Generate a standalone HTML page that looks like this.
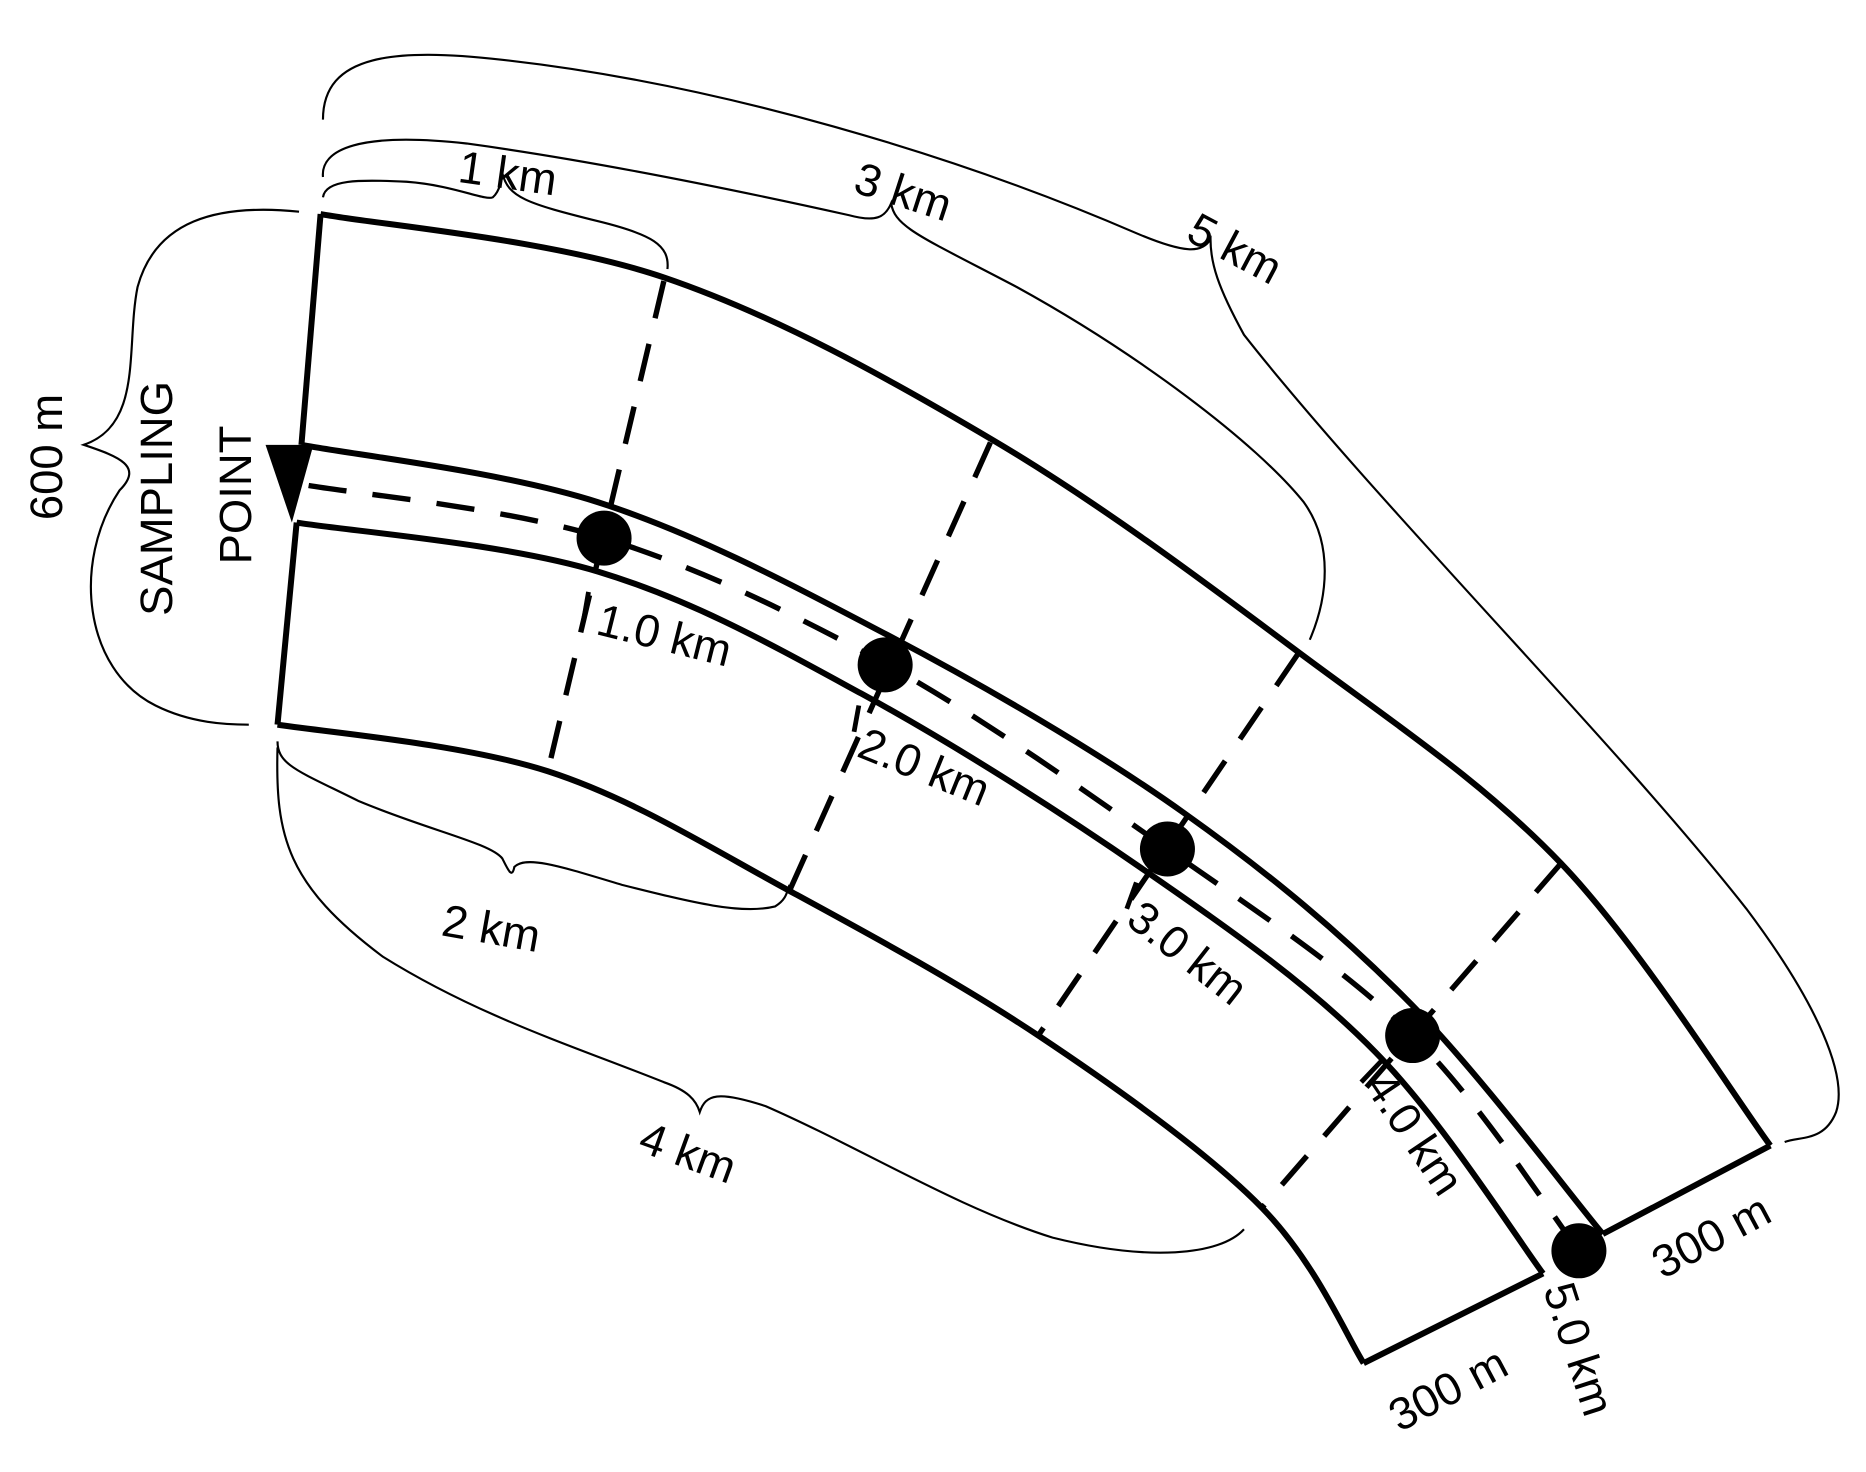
<!DOCTYPE html>
<html><head><meta charset="utf-8"><style>
html,body{margin:0;padding:0;background:#fff;}
svg{display:block;}
text{font-family:"Liberation Sans",sans-serif;font-size:38px;fill:#000;}
</style></head><body>
<svg width="1866" height="1472" viewBox="0 0 1560 1231" preserveAspectRatio="none" xmlns="http://www.w3.org/2000/svg">
<g fill="none" stroke="#000" stroke-width="5" stroke-linecap="butt" stroke-linejoin="miter">
<path d="M268,179 C316,188 461,200 555,232 C649,264 742,316 830,368 C918,420 1006,486 1085,545 C1164,604 1239,653 1305,722 C1371,791 1451,919 1480,958"/>
<path d="M252,372 C293,380 419,394 500,420 C581,446 658,487 740,530 C822,573 917,628 990,680 C1063,732 1122,781 1180,840 C1238,899 1313,1000 1340,1032"/>
<path d="M248,437 C290,444 421,454 500,478 C579,502 643,538 720,580 C797,622 888,680 960,730 C1032,780 1095,824 1150,880 C1205,936 1267,1034 1290,1065"/>
<path d="M232,606 C270,612 387,622 458,645 C529,668 592,708 660,745 C728,782 802,822 868,866 C934,910 1010,964 1055,1010 C1100,1056 1126,1118 1140,1140"/>
<path d="M268,179 L252,372"/>
<path d="M248,437 L232,606"/>
<path d="M1480,958 L1340,1032"/>
<path d="M1140,1140 L1290,1065"/>
</g>
<g fill="none" stroke="#000" stroke-width="4.5" stroke-dasharray="32,22">
<path d="M258,406 C299,413 425,425 505,450 C585,475 661,512 740,555 C818,598 902,658 976,710 C1050,762 1124,810 1181,866 C1238,922 1297,1016 1320,1046"/>
<path d="M555,235 L458,645"/>
<path d="M828,370 L660,745"/>
<path d="M1085,547 L868,866"/>
<path d="M1305,722 L1055,1010"/>
</g>
<polygon points="222,372 262,372 244,437" fill="#000"/>
<g fill="#000">
<circle cx="505" cy="450" r="23"/>
<circle cx="740" cy="556" r="23"/>
<circle cx="976" cy="710" r="23"/>
<circle cx="1181" cy="866" r="23"/>
<circle cx="1320" cy="1046" r="23"/>
</g>
<g stroke="#000" stroke-width="4">
<path d="M492,495 L488,518"/>
<path d="M718,590 L714,612"/>
<path d="M950,738 L942,760"/>
<path d="M1157,885 L1138,905"/>
</g>
<g fill="none" stroke="#000" stroke-width="1.8">
<path d="M250,177 C180,170 130,185 115,240 C105,290 120,355 70,372 C100,382 120,390 100,410 C60,470 70,560 130,590 C160,605 190,606 208,606"/>
<path d="M270,165 C272,150 300,150 340,152 C380,155 405,168 412,165 C418,160 420,148 420,145 C425,165 440,170 500,185 C545,196 560,205 558,225"/>
<path d="M270,148 C268,125 300,110 390,120 C500,135 620,160 710,180 C732,186 740,182 745,170 C748,190 770,198 850,240 C950,295 1050,370 1090,420 C1115,455 1110,500 1095,535"/>
<path d="M270,100 C270,45 330,40 420,50 C600,70 800,130 950,195 C990,212 1005,212 1012,200 C1012,220 1018,240 1040,280 C1150,420 1350,620 1460,760 C1520,840 1545,900 1535,930 C1525,955 1505,950 1492,955"/>
<path d="M232,620 C232,640 250,645 300,670 C360,695 410,705 420,718 C425,728 428,735 430,725 C440,715 470,725 520,740 C580,755 620,765 648,758 C658,752 658,745 660,740"/>
<path d="M232,625 C230,700 240,740 320,800 C400,850 480,875 555,905 C575,912 582,920 585,930 C590,915 600,912 640,925 C720,960 800,1010 880,1035 C960,1055 1020,1050 1040,1028"/>
</g>
<text transform="translate(382,152) rotate(8)">1 km</text>
<text transform="translate(712,160) rotate(18)">3 km</text>
<text transform="translate(990,200) rotate(28)">5 km</text>
<text transform="translate(368,782) rotate(10)">2 km</text>
<text transform="translate(532,962) rotate(20)">4 km</text>
<text transform="translate(52,435) rotate(-90)">600 m</text>
<text transform="translate(144,515) rotate(-90)">SAMPLING</text>
<text transform="translate(210,472) rotate(-90)">POINT</text>
<text transform="translate(497,530) rotate(14)">1.0 km</text>
<text transform="translate(715,632) rotate(22)">2.0 km</text>
<text transform="translate(940,772) rotate(38)">3.0 km</text>
<text transform="translate(1140,908) rotate(56)">4.0 km</text>
<text transform="translate(1290,1078) rotate(72)">5.0 km</text>
<text transform="translate(1170,1198) rotate(-28)">300 m</text>
<text transform="translate(1390,1070) rotate(-28)">300 m</text>
</svg>
</body></html>
